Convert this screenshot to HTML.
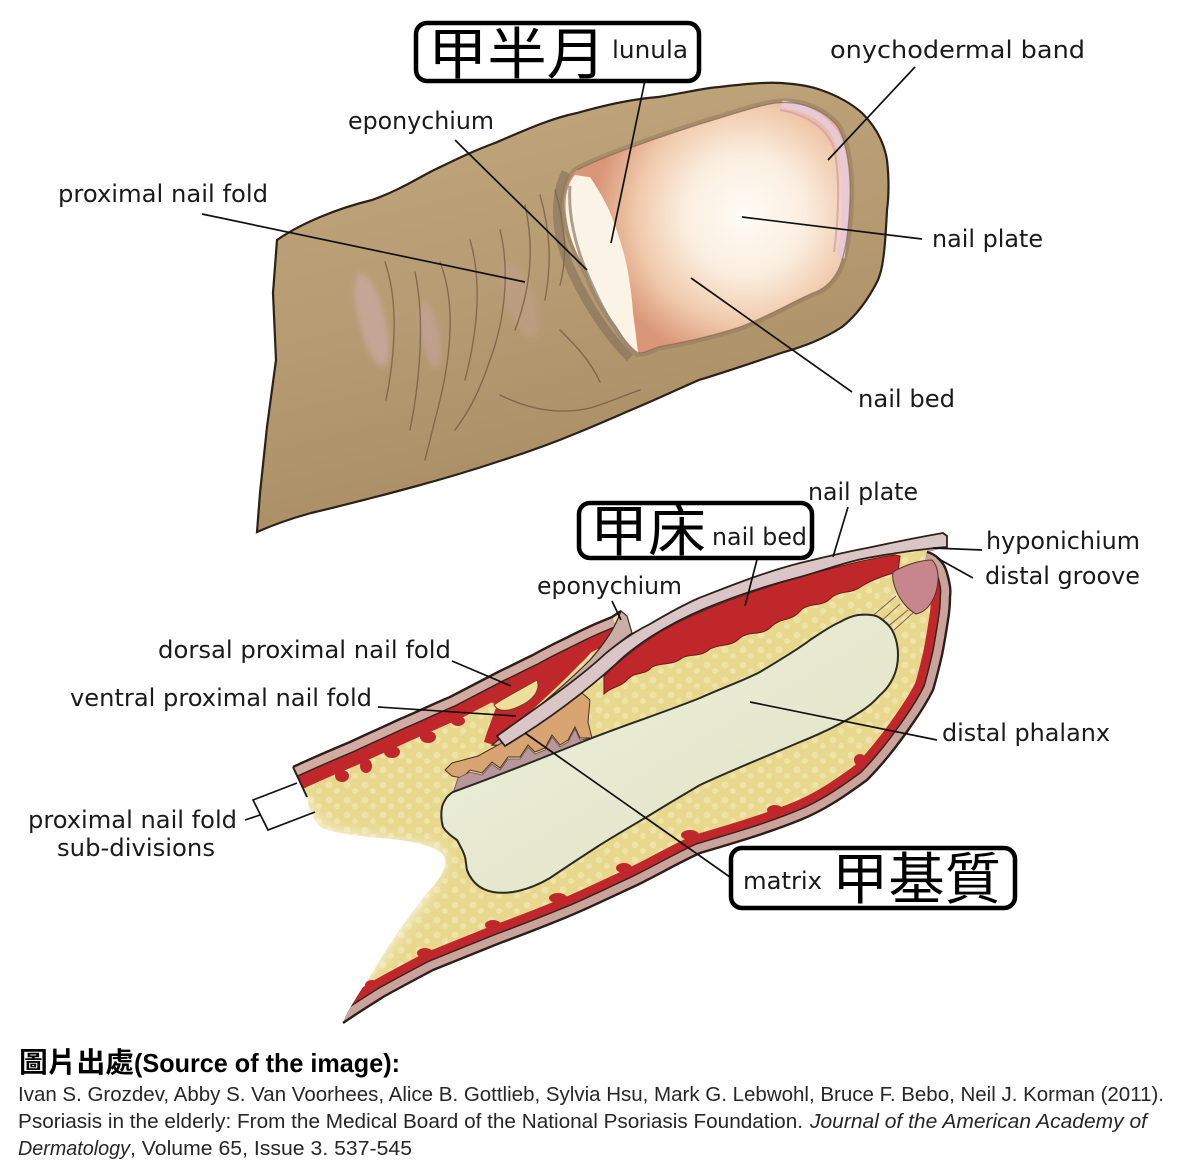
<!DOCTYPE html>
<html><head><meta charset="utf-8"><style>html,body{margin:0;padding:0;background:#fff}svg{display:block}</style></head><body>
<svg xmlns="http://www.w3.org/2000/svg" width="1184" height="1176" viewBox="0 0 1184 1176">
<defs>
<linearGradient id="skin" x1="0" y1="0" x2="0.35" y2="1">
<stop offset="0" stop-color="#c2a87f"/><stop offset="0.55" stop-color="#b69b72"/><stop offset="1" stop-color="#a98c63"/>
</linearGradient>
<radialGradient id="nailg" cx="745" cy="215" r="150" gradientUnits="userSpaceOnUse">
<stop offset="0" stop-color="#fffcf5"/><stop offset="0.4" stop-color="#fbeee0"/><stop offset="0.72" stop-color="#f0caac"/><stop offset="1" stop-color="#da9678"/>
</radialGradient>
<linearGradient id="boneg" x1="0" y1="0" x2="1" y2="1"><stop offset="0" stop-color="#eef0dd"/><stop offset="1" stop-color="#dfe3c3"/></linearGradient>
<pattern id="fat" width="18" height="15" patternUnits="userSpaceOnUse">
<rect width="18" height="15" fill="#e7d88d"/><circle cx="5" cy="5" r="3.5" fill="#eee3a8"/><circle cx="13" cy="11" r="3" fill="#eee3a8"/>
</pattern>
<clipPath id="sclip"><path d="M293,767 C312,758 331,750 350,742 C367,734 383,727 400,719 C417,712 433,704 450,697 C467,688 483,680 500,671 C511,666 522,660 533,655 C545,648 558,642 570,636 C580,631 590,626 600,622 L612,617 L621,611 L627,616 L632,633 C638,629 645,627 650,624 C667,614 683,605 699,598 C735,584 765,572 800,563 C825,557 845,552 867,548 C895,542 920,537 943,533 L947,536 L947,547 L927,552 C936,554 944,562 947,573 C950,584 951,590 950,597 C950,607 949,614 948,620 C946,633 944,645 942,655 C939,668 936,680 933,690 C927,702 920,713 913,723 C900,742 885,762 867,780 C845,796 825,810 800,820 C768,833 734,843 700,853 C678,863 656,876 633,887 C611,897 589,908 567,917 C545,926 522,935 500,943 C478,952 455,961 433,970 C416,979 399,988 383,997 C369,1006 356,1014 343,1023 C350,1005 365,985 380,960 C395,935 410,915 425,895 C440,880 447,868 445,858 C441,848 420,843 400,840 C370,837 340,835 322,828 C313,822 309,810 307,797 Z"/></clipPath>
<filter id="blur" x="-30%" y="-30%" width="160%" height="160%"><feGaussianBlur stdDeviation="8"/></filter>
<filter id="soft" x="-30%" y="-30%" width="160%" height="160%"><feGaussianBlur stdDeviation="3"/></filter>
</defs>

<!-- ===== TOP FINGER ===== -->
<path d="M277,240 C300,224 335,209 372,200 C400,190 418,178 434,170 C455,160 475,150 495,143 C525,130 552,118 577,113 C605,105 632,99 658,97 C685,93 703,88 719,87 C745,84 765,82 781,83 C797,84 810,86 821,90 C838,96 852,104 862,113 C876,127 884,142 887,160 C889,178 889,195 887,210 C886,230 885,248 883,260 C882,268 880,275 878,280 C868,300 857,315 842,327 C822,340 802,347 781,353 C752,363 725,372 699,380 C676,390 657,399 638,407 C617,416 597,425 577,433 C553,443 528,452 503,460 C473,470 443,479 413,487 C380,496 345,505 311,513 C293,518 275,524 257,532 L260,493 L267,427 L276,360 L273,293 Z" fill="url(#skin)" stroke="#2b2119" stroke-width="2.2"/>
<g filter="url(#soft)" opacity="0.55">
<ellipse cx="372" cy="320" rx="13" ry="48" transform="rotate(-14 372 320)" fill="#cfb0b4"/>
<ellipse cx="430" cy="335" rx="9" ry="34" transform="rotate(-10 430 335)" fill="#c9a6a6"/>
<ellipse cx="520" cy="300" rx="14" ry="40" transform="rotate(-20 520 300)" fill="#c2a08e"/>
</g>
<g fill="none" stroke="#5f4a36" stroke-width="1.4" opacity="0.6" stroke-linecap="round">
<path d="M540,195 C550,230 552,262 545,300"/>
<path d="M525,205 C535,250 530,290 515,330"/>
<path d="M500,230 C510,270 505,320 490,360 C480,390 470,410 455,430"/>
<path d="M470,240 C482,280 478,330 465,380"/>
<path d="M440,262 C455,300 452,350 440,400 C435,420 430,440 425,460"/>
<path d="M415,272 C425,320 420,380 410,430"/>
<path d="M385,262 C398,300 396,350 386,400"/>
<path d="M500,395 C530,410 560,415 590,408 C610,402 625,395 640,390"/>
<path d="M560,330 C575,345 590,360 600,382"/>
<path d="M555,190 C565,225 568,255 560,285"/>
</g>
<!-- nail fold shadow -->
<path d="M566,172 C552,200 556,238 572,272 C588,306 606,334 630,358" fill="none" stroke="#7d6a58" stroke-width="9" opacity="0.55"/>
<path d="M577,170 C600,158 650,140 700,124 C740,112 760,105 776,103 C800,100 825,110 838,127 C848,145 851,175 850,200 C849,225 847,245 842,260 C838,275 828,288 813,293 C790,303 765,318 740,327 C710,337 680,343 658,347 C650,350 645,353 638,353 C628,345 622,335 617,327 C605,310 595,295 589,277 C580,260 572,245 568,227 C564,210 563,200 566,193 C568,182 572,175 577,170 Z" fill="none" stroke="#8c7458" stroke-width="8" opacity="0.45"/>
<!-- nail -->
<path d="M577,170 C600,158 650,140 700,124 C740,112 760,105 776,103 C800,100 825,110 838,127 C848,145 851,175 850,200 C849,225 847,245 842,260 C838,275 828,288 813,293 C790,303 765,318 740,327 C710,337 680,343 658,347 C650,350 645,353 638,353 C628,345 622,335 617,327 C605,310 595,295 589,277 C580,260 572,245 568,227 C564,210 563,200 566,193 C568,182 572,175 577,170 Z" fill="url(#nailg)"/>
<!-- lunula -->
<path d="M575,175 C582,176 587,177 590,177 C600,192 608,206 613,220 C619,236 624,252 627,267 C630,283 632,298 633,313 C635,326 636,338 638,352 C628,345 622,335 617,327 C605,310 595,295 589,277 C580,260 572,245 568,227 C565,212 565,200 567,192 C569,184 572,178 575,175 Z" fill="#fbf4e6"/>
<path d="M570,186 C568,212 574,245 590,280 C603,310 617,335 634,354" fill="none" stroke="#9a8a7a" stroke-width="3" opacity="0.8"/>
<!-- onychodermal band -->
<path d="M782,104 C810,108 832,121 840,145 C848,172 847,215 841,258" fill="none" stroke="#e8c9d8" stroke-width="7"/>
<path d="M780,110 C804,114 826,126 834,148 C840,175 839,215 834,252" fill="none" stroke="#cf9fb4" stroke-width="2" opacity="0.8"/>
<path d="M577,170 C600,158 650,140 700,124 C740,112 760,105 776,103 C800,100 825,110 838,127 C848,145 851,175 850,200 C849,225 847,245 842,260 C838,275 828,288 813,293 C790,303 765,318 740,327 C710,337 680,343 658,347 C650,350 645,353 638,353" fill="none" stroke="#8a6a55" stroke-width="1.3" opacity="0.7"/>

<!-- ===== CROSS SECTION ===== -->
<path d="M293,767 C312,758 331,750 350,742 C367,734 383,727 400,719 C417,712 433,704 450,697 C467,688 483,680 500,671 C511,666 522,660 533,655 C545,648 558,642 570,636 C580,631 590,626 600,622 L612,617 L621,611 L627,616 L632,633 C638,629 645,627 650,624 C667,614 683,605 699,598 C735,584 765,572 800,563 C825,557 845,552 867,548 C895,542 920,537 943,533 L947,536 L947,547 L927,552 C936,554 944,562 947,573 C950,584 951,590 950,597 C950,607 949,614 948,620 C946,633 944,645 942,655 C939,668 936,680 933,690 C927,702 920,713 913,723 C900,742 885,762 867,780 C845,796 825,810 800,820 C768,833 734,843 700,853 C678,863 656,876 633,887 C611,897 589,908 567,917 C545,926 522,935 500,943 C478,952 455,961 433,970 C416,979 399,988 383,997 C369,1006 356,1014 343,1023 C350,1005 365,985 380,960 C395,935 410,915 425,895 C440,880 447,868 445,858 C441,848 420,843 400,840 C370,837 340,835 322,828 C313,822 309,810 307,797 Z" fill="url(#fat)"/>
<path d="M250,800 L306,800 L312,818 L326,832 L380,841 L438,850 L444,862 L428,890 L398,932 L372,968 L352,1000 L338,1030 L250,1030 Z" fill="#fff" filter="url(#blur)"/>

<g clip-path="url(#sclip)">
<path d="M927,552 C936,554 944,562 947,573 C950,584 951,590 950,597 C950,607 949,614 948,620 C946,633 944,645 942,655 C939,668 936,680 933,690 C927,702 920,713 913,723 C900,742 885,762 867,780 C845,796 825,810 800,820 C768,833 734,843 700,853 C678,863 656,876 633,887 C611,897 589,908 567,917 C545,926 522,935 500,943 C478,952 455,961 433,970 C416,979 399,988 383,997 C369,1006 356,1014 343,1023" fill="none" stroke="#c0272a" stroke-width="38"/>
<g fill="#c0272a">
<ellipse cx="690" cy="835" rx="9" ry="5"/><ellipse cx="624" cy="868" rx="8" ry="5"/><ellipse cx="558" cy="898" rx="9" ry="5"/><ellipse cx="493" cy="925" rx="8" ry="5"/><ellipse cx="425" cy="953" rx="8" ry="5"/><ellipse cx="372" cy="985" rx="7" ry="5"/><ellipse cx="775" cy="810" rx="8" ry="5"/><ellipse cx="860" cy="760" rx="6" ry="6"/>
</g>
<path d="M927,552 C936,554 944,562 947,573 C950,584 951,590 950,597 C950,607 949,614 948,620 C946,633 944,645 942,655 C939,668 936,680 933,690 C927,702 920,713 913,723 C900,742 885,762 867,780 C845,796 825,810 800,820 C768,833 734,843 700,853 C678,863 656,876 633,887 C611,897 589,908 567,917 C545,926 522,935 500,943 C478,952 455,961 433,970 C416,979 399,988 383,997 C369,1006 356,1014 343,1023" fill="none" stroke="#3a2420" stroke-width="21"/>
<path d="M927,552 C936,554 944,562 947,573 C950,584 951,590 950,597 C950,607 949,614 948,620 C946,633 944,645 942,655 C939,668 936,680 933,690 C927,702 920,713 913,723 C900,742 885,762 867,780 C845,796 825,810 800,820 C768,833 734,843 700,853 C678,863 656,876 633,887 C611,897 589,908 567,917 C545,926 522,935 500,943 C478,952 455,961 433,970 C416,979 399,988 383,997 C369,1006 356,1014 343,1023" fill="none" stroke="#caa39b" stroke-width="18"/>
<path d="M293,767 C312,758 331,750 350,742 C367,734 383,727 400,719 C417,712 433,704 450,697 C467,688 483,680 500,671 C511,666 522,660 533,655 C545,648 558,642 570,636 C580,631 590,626 600,622 L612,617" fill="none" stroke="#c0272a" stroke-width="48"/>
<g fill="#c0272a">
<ellipse cx="342" cy="776" rx="7" ry="6"/><ellipse cx="366" cy="766" rx="6" ry="7"/><ellipse cx="392" cy="752" rx="8" ry="6"/><ellipse cx="428" cy="737" rx="8" ry="6"/><ellipse cx="458" cy="721" rx="7" ry="5"/>
</g>
<path d="M466,690 C490,682 510,672 530,664 C550,655 570,645 592,636 L604,628 C598,645 590,655 580,664 C555,690 525,716 494,745 L484,742 C488,728 494,714 497,705 C486,700 476,695 466,690 Z" fill="#c0272a"/>
<path d="M494,705 C505,697 520,690 537,680 C541,690 533,700 520,706 C508,712 498,712 494,705 Z" fill="#ecdf9a" stroke="#7a3a20" stroke-width="1"/>
<path d="M293,767 C312,758 331,750 350,742 C367,734 383,727 400,719 C417,712 433,704 450,697 C467,688 483,680 500,671 C511,666 522,660 533,655 C545,648 558,642 570,636 C580,631 590,626 600,622 L612,617" fill="none" stroke="#3a2420" stroke-width="22"/>
<path d="M293,767 C312,758 331,750 350,742 C367,734 383,727 400,719 C417,712 433,704 450,697 C467,688 483,680 500,671 C511,666 522,660 533,655 C545,648 558,642 570,636 C580,631 590,626 600,622 L612,617" fill="none" stroke="#d2aca2" stroke-width="19"/>
<path d="M604,676 C620,660 640,645 660,632 C690,615 730,598 800,577 C830,569 860,560 895,555 L900,556 L898,572 C885,575 872,580 862,586 C852,594 842,590 832,597 C822,608 812,602 802,609 C792,622 782,617 772,626 C762,637 750,630 740,638 C730,648 720,643 710,649 C700,658 690,653 682,658 C672,666 662,662 652,667 C645,676 635,671 628,679 C620,688 612,686 604,694 Z" fill="#c0272a" stroke="#6a1a1a" stroke-width="1"/>
</g>

<path d="M492,745 C520,722 560,690 590,660 C605,643 615,628 621,611 L627,616 L632,633 C620,641 610,650 600,660 C570,688 535,716 505,746 Z" fill="#c9aea6" stroke="#3a2a28" stroke-width="1.2"/>
<path d="M445,770 L452,763 L478,756 L500,744 L530,726 L562,705 L582,693 L590,700 L588,722 L592,738 L580,738 L575,727 L568,740 L560,745 L552,735 L545,748 L535,752 L528,745 L520,757 L508,757 L500,768 L492,762 L482,773 L470,770 L462,778 L452,776 Z" fill="#d7a472" stroke="#4a3020" stroke-width="1"/>
<path d="M453,793 L458,778 L470,772 L482,775 L492,764 L500,770 L508,759 L520,759 L528,747 L535,754 L545,750 L552,737 L560,747 L568,742 L575,729 L580,740 L592,738 L588,742 Z" fill="#b8969c" stroke="#6a4a50" stroke-width="0.8"/>
<path d="M497,736 C530,712 575,682 605,654 C618,643 632,633 650,624 C667,614 683,605 699,598 C735,584 765,572 800,563 C825,557 845,552 867,548 C895,542 920,537 943,533 L947,536 L947,547 C920,549 895,553 867,558 C845,562 825,570 800,577 C765,586 735,596 704,609 C685,617 668,626 652,636 C638,645 626,654 616,664 C585,692 548,720 505,746 Z" fill="#dac6c6" stroke="#2e201c" stroke-width="1.8"/>
<g stroke="#8a5a60" stroke-width="1" fill="none">
<path d="M900,604 L878,624"/><path d="M908,610 L886,628"/><path d="M896,596 L870,618"/><path d="M914,612 L894,630"/>
</g>
<path d="M893,572 C905,565 920,560 932,560 C938,566 940,578 936,592 C932,604 926,612 916,614 C908,610 900,600 896,590 C893,583 892,577 893,572 Z" fill="#c7868c" stroke="#5a3030" stroke-width="1"/>
<path d="M453,792 C500,775 545,757 587,740 C625,725 665,712 700,698 C722,688 745,680 760,672 C780,660 800,648 810,640 C825,630 835,624 840,622 C847,618 852,616 858,615 C868,614 876,615 880,618 C887,623 891,627 893,632 C897,640 898,648 898,655 C898,664 896,672 893,678 C889,686 885,691 880,695 C874,702 868,707 860,712 C840,725 820,734 800,742 C765,757 732,770 700,785 C683,795 666,805 650,815 C633,825 616,835 600,845 C583,856 566,867 550,878 C538,885 525,890 513,892 C506,893 499,893 493,892 C488,891 483,889 480,887 C474,883 469,876 467,870 C466,865 466,861 465,857 C464,853 462,849 457,840 C451,836 446,832 443,827 C441,820 441,813 442,807 C443,803 445,800 447,797 C449,795 451,793 453,792 Z" fill="url(#boneg)" stroke="#2a2a22" stroke-width="2"/>

<path d="M927,552 C936,554 944,562 947,573 C950,584 951,590 950,597 C950,607 949,614 948,620 C946,633 944,645 942,655 C939,668 936,680 933,690 C927,702 920,713 913,723 C900,742 885,762 867,780 C845,796 825,810 800,820 C768,833 734,843 700,853 C678,863 656,876 633,887 C611,897 589,908 567,917 C545,926 522,935 500,943 C478,952 455,961 433,970 C416,979 399,988 383,997 C369,1006 356,1014 343,1023" fill="none" stroke="#2c1e1a" stroke-width="2.4"/>
<path d="M293,767 C312,758 331,750 350,742 C367,734 383,727 400,719 C417,712 433,704 450,697 C467,688 483,680 500,671 C511,666 522,660 533,655 C545,648 558,642 570,636 C580,631 590,626 600,622 L612,617 L621,611" fill="none" stroke="#2c1e1a" stroke-width="2.4"/>
<path d="M293,767 L307,797" stroke="#2c1e1a" stroke-width="2"/>

<g stroke="#111" stroke-width="1.7" fill="none">
<path d="M648,66 L611,243"/>
<path d="M915,67 L828,160"/>
<path d="M455,140 L587,270"/>
<path d="M202,214 L525,282"/>
<path d="M742,217 L922,239"/>
<path d="M691,278 L852,392"/>
<path d="M848,507 L833,557"/>
<path d="M760,548 L745,606"/>
<path d="M982,550 L933,548"/>
<path d="M973,578 L937,558"/>
<path d="M612,601 L621,620"/>
<path d="M452,661 L511,686"/>
<path d="M378,707 L516,716"/>
<path d="M297,783 L253,800 L268,830 L315,812"/>
<path d="M245,820 L260,815"/>
<path d="M750,702 L937,740"/>
<path d="M525,733 L737,882"/>
</g>

<g fill="#fff" stroke="#000" stroke-width="4.5">
<rect x="416" y="23" width="283" height="58" rx="11"/>
<rect x="579" y="503" width="233" height="55" rx="11"/>
<rect x="731" y="848" width="284" height="60" rx="11"/>
</g>
<g font-family="'Noto Sans CJK TC','Noto Sans CJK SC','WenQuanYi Zen Hei',sans-serif" font-size="56" fill="#000">
<text x="428" y="74" textLength="178" lengthAdjust="spacingAndGlyphs">甲半月</text>
<text x="590" y="551" textLength="116" lengthAdjust="spacingAndGlyphs">甲床</text>
<text x="832" y="899" textLength="169" lengthAdjust="spacingAndGlyphs">甲基質</text>
</g>

<g font-family="'DejaVu Sans','Liberation Sans',sans-serif" font-size="24" fill="#1a1a1a">
<text x="612" y="58" textLength="76" lengthAdjust="spacingAndGlyphs">lunula</text>
<text x="830" y="58" textLength="255" lengthAdjust="spacingAndGlyphs">onychodermal band</text>
<text x="348" y="129" textLength="146" lengthAdjust="spacingAndGlyphs">eponychium</text>
<text x="58" y="202" textLength="210" lengthAdjust="spacingAndGlyphs">proximal nail fold</text>
<text x="932" y="247" textLength="111" lengthAdjust="spacingAndGlyphs">nail plate</text>
<text x="858" y="407" textLength="97" lengthAdjust="spacingAndGlyphs">nail bed</text>
<text x="808" y="500" textLength="110" lengthAdjust="spacingAndGlyphs">nail plate</text>
<text x="712" y="545" textLength="95" lengthAdjust="spacingAndGlyphs">nail bed</text>
<text x="986" y="549" textLength="154" lengthAdjust="spacingAndGlyphs">hyponichium</text>
<text x="985" y="584" textLength="155" lengthAdjust="spacingAndGlyphs">distal groove</text>
<text x="537" y="594" textLength="145" lengthAdjust="spacingAndGlyphs">eponychium</text>
<text x="158" y="658" textLength="293" lengthAdjust="spacingAndGlyphs">dorsal proximal nail fold</text>
<text x="70" y="706" textLength="302" lengthAdjust="spacingAndGlyphs">ventral proximal nail fold</text>
<text x="942" y="741" textLength="168" lengthAdjust="spacingAndGlyphs">distal phalanx</text>
<text x="28" y="828" textLength="209" lengthAdjust="spacingAndGlyphs">proximal nail fold</text>
<text x="57" y="856" textLength="158" lengthAdjust="spacingAndGlyphs">sub-divisions</text>
<text x="743" y="889" textLength="79" lengthAdjust="spacingAndGlyphs">matrix</text>
</g>

<text x="19" y="1072" font-family="'Liberation Sans','Noto Sans CJK TC',sans-serif" font-size="28" font-weight="bold" fill="#000" textLength="115" lengthAdjust="spacingAndGlyphs">圖片出處</text>
<text x="134" y="1072" font-family="'Liberation Sans',sans-serif" font-size="26" font-weight="bold" fill="#000" textLength="266" lengthAdjust="spacingAndGlyphs">(Source of the image):</text>
<g font-family="'Liberation Sans',sans-serif" font-size="20" fill="#262626">
<text x="18" y="1101" textLength="1146" lengthAdjust="spacingAndGlyphs">Ivan S. Grozdev, Abby S. Van Voorhees, Alice B. Gottlieb, Sylvia Hsu, Mark G. Lebwohl, Bruce F. Bebo, Neil J. Korman (2011).</text>
<text x="18" y="1128" textLength="785" lengthAdjust="spacingAndGlyphs">Psoriasis in the elderly: From the Medical Board of the National Psoriasis Foundation.</text>
<text x="810" y="1128" font-style="italic" textLength="337" lengthAdjust="spacingAndGlyphs">Journal of the American Academy of</text>
<text x="18" y="1155" font-style="italic" textLength="112" lengthAdjust="spacingAndGlyphs">Dermatology</text>
<text x="130" y="1155" textLength="282" lengthAdjust="spacingAndGlyphs">, Volume 65, Issue 3. 537-545</text>
</g>
</svg>
</body></html>
